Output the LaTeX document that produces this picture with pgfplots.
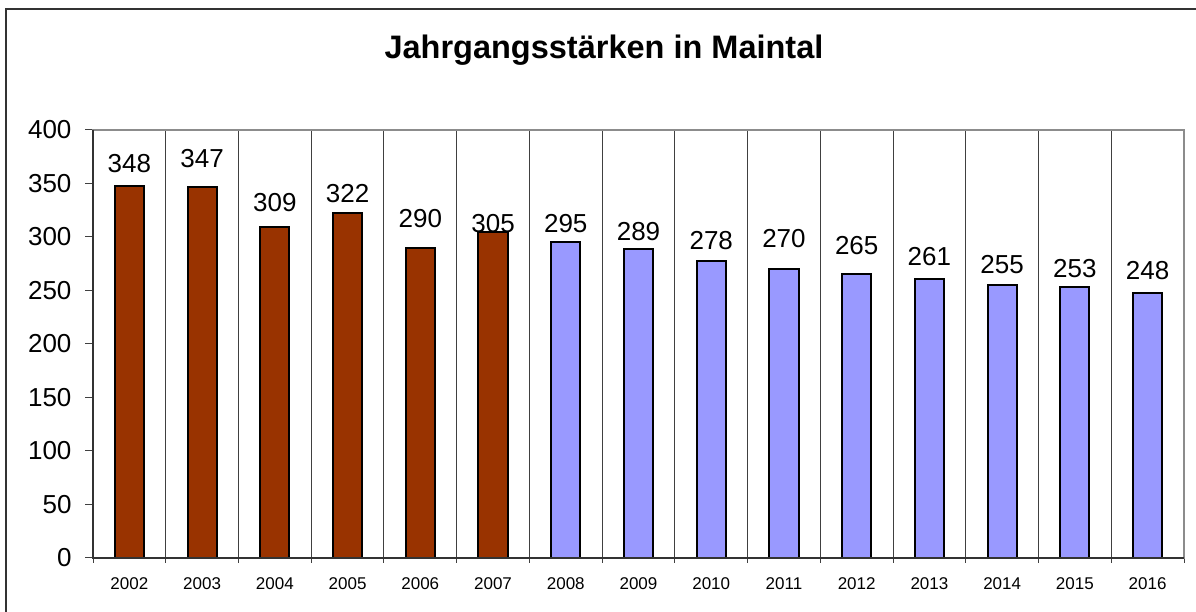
\documentclass[border=0pt]{standalone}
\usepackage{pgfplots}
\pgfplotsset{compat=1.18}
\usepackage{pgfplotstable}
\usepackage{fontspec}
\setmainfont{Liberation Sans}
\definecolor{brownbar}{HTML}{993300}
\definecolor{bluebar}{HTML}{9999FF}
\pgfplotstableread{
x y off
0 348 22.5
1 347 27.8
2 309 25
3 322 20
4 290 29
5 305 8
}\tA
\pgfplotstableread{
x y off
6 295 19
7 289 17
8 278 20
9 270 31
10 265 29
11 261 22.5
12 255 21
13 253 19
14 248 22.5
}\tB
\begin{document}
\begin{tikzpicture}[x=1pt,y=1pt]
\useasboundingbox (0,0) rectangle (1196,612);
\draw[line width=2pt, black!80] (6,0) -- (6,603) -- (1196,603);
\node[font=\bfseries\fontsize{32.5}{38}\selectfont] at (604,562) {Jahrgangsstärken in Maintal};
\begin{axis}[
  at={(93pt,54pt)}, anchor=south west,
  scale only axis, width=1091pt, height=428pt,
  ymin=0, ymax=400, ytick={0,50,...,400},
  xmin=-0.5, xmax=14.5,
  xtick={0,...,14},
  xticklabels={2002,2003,2004,2005,2006,2007,2008,2009,2010,2011,2012,2013,2014,2015,2016},
  minor xtick={-0.5,0.5,...,14.5},
  xminorgrids=true,
  minor x grid style={draw=black!75, line width=1pt},
  major x tick style={draw=none},
  xtick pos=bottom, ytick pos=left,
  tick align=outside,
  major tick length=8pt,
  minor tick length=5pt,
  tick style={draw=black!75, line width=1pt},
  axis line style={draw=black!45, line width=1.2pt},
  /pgf/number format/assume math mode=true,
  yticklabel style={font=\fontsize{26}{30}\selectfont, xshift=-10pt},
  xticklabel style={font=\fontsize{17}{20}\selectfont, yshift=-8pt},
  ybar, bar width=0.4, bar shift=0pt,
  nodes near coords,
  visualization depends on={\thisrow{off} \as \off},
  every node near coord/.append style={font=\fontsize{26}{30}\selectfont, anchor=center, yshift=\off, inner sep=0pt},
  after end axis/.code={
    \draw[black!80, line width=1.2pt] (rel axis cs:0,1) -- (rel axis cs:0,0) -- (rel axis cs:1,0);
  },
]
\addplot[fill=brownbar, draw=black, line width=2pt] table[x=x,y=y] {\tA};
\addplot[fill=bluebar, draw=black, line width=2pt] table[x=x,y=y] {\tB};
\end{axis}
\end{tikzpicture}
\end{document}
